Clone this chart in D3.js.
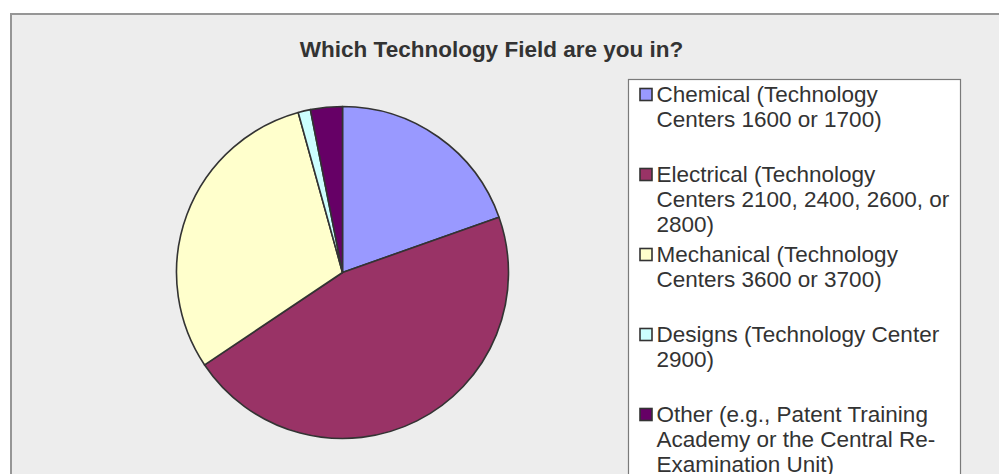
<!DOCTYPE html>
<html lang="en">
  <head>
    <meta charset="utf-8">
    <script src="https://d3js.org/d3.v7.min.js"></script>
    <style>
      body { margin: 0; background: #fff; }
      text { font-family: "Liberation Sans", Arial, sans-serif; fill: #333; }
    </style>
  </head>
  <body>
    <svg width="999" height="474"></svg>
    <script>
      // chart data
      var title = "Which Technology Field are you in?";
      var categories = ["Chemical", "Electrical", "Mechanical", "Designs", "Other"];
      var shares = [19.6, 46.0, 30.1, 1.2, 3.1];
      var legendLines = [
        ["Chemical (Technology", "Centers 1600 or 1700)"],
        ["Electrical (Technology", "Centers 2100, 2400, 2600, or", "2800)"],
        ["Mechanical (Technology", "Centers 3600 or 3700)"],
        ["Designs (Technology Center", "2900)"],
        ["Other (e.g., Patent Training", "Academy or the Central Re-", "Examination Unit)"]
      ];
      var colors = ["#9999ff", "#993366", "#ffffcc", "#ccffff", "#660066"];

      var svg = d3.select("svg");

      // chart area frame
      svg.append("rect")
        .attr("x", 11).attr("y", 14)
        .attr("width", 1000).attr("height", 500)
        .attr("fill", "#ededed")
        .attr("stroke", "#969696")
        .attr("stroke-width", 2);

      // title
      svg.append("text")
        .attr("x", 491.5).attr("y", 57)
        .attr("text-anchor", "middle")
        .style("font-size", "22.5px")
        .style("font-weight", "bold")
        .text(title);

      // pie
      var color = d3.scaleOrdinal().domain(categories).range(colors);
      var pie = d3.pie().sort(null).value(function(d) { return d.value; });
      var arc = d3.arc().innerRadius(0).outerRadius(166);
      var data = categories.map(function(c, i) { return {name: c, value: shares[i]}; });

      svg.append("g")
        .attr("transform", "translate(342.5,272.5)")
        .selectAll("path")
        .data(pie(data))
        .enter().append("path")
          .attr("d", arc)
          .attr("fill", function(d) { return color(d.data.name); })
          .attr("stroke", "#333")
          .attr("stroke-width", 1.6)
          .attr("stroke-linejoin", "round");

      // legend
      var legend = svg.append("g");
      legend.append("rect")
        .attr("x", 628.5).attr("y", 79.5)
        .attr("width", 332).attr("height", 420)
        .attr("fill", "#fff")
        .attr("stroke", "#7a7a7a")
        .attr("stroke-width", 1.2);

      var items = legend.selectAll("g.item")
        .data(categories)
        .enter().append("g")
          .attr("class", "item")
          .attr("transform", function(d, i) { return "translate(0," + (80 * i) + ")"; });

      items.append("rect")
        .attr("x", 640).attr("y", 88.5)
        .attr("width", 12).attr("height", 12)
        .attr("fill", function(d) { return color(d); })
        .attr("stroke", "#333")
        .attr("stroke-width", 1.6);

      items.append("text")
        .attr("x", 656.5).attr("y", 101.5)
        .style("font-size", "22.5px")
        .selectAll("tspan")
        .data(function(d, i) { return legendLines[i]; })
        .enter().append("tspan")
          .attr("x", 656.5)
          .attr("dy", function(d, j) { return j === 0 ? 0 : 25; })
          .text(function(d) { return d; });
    </script>
  </body>
</html>
